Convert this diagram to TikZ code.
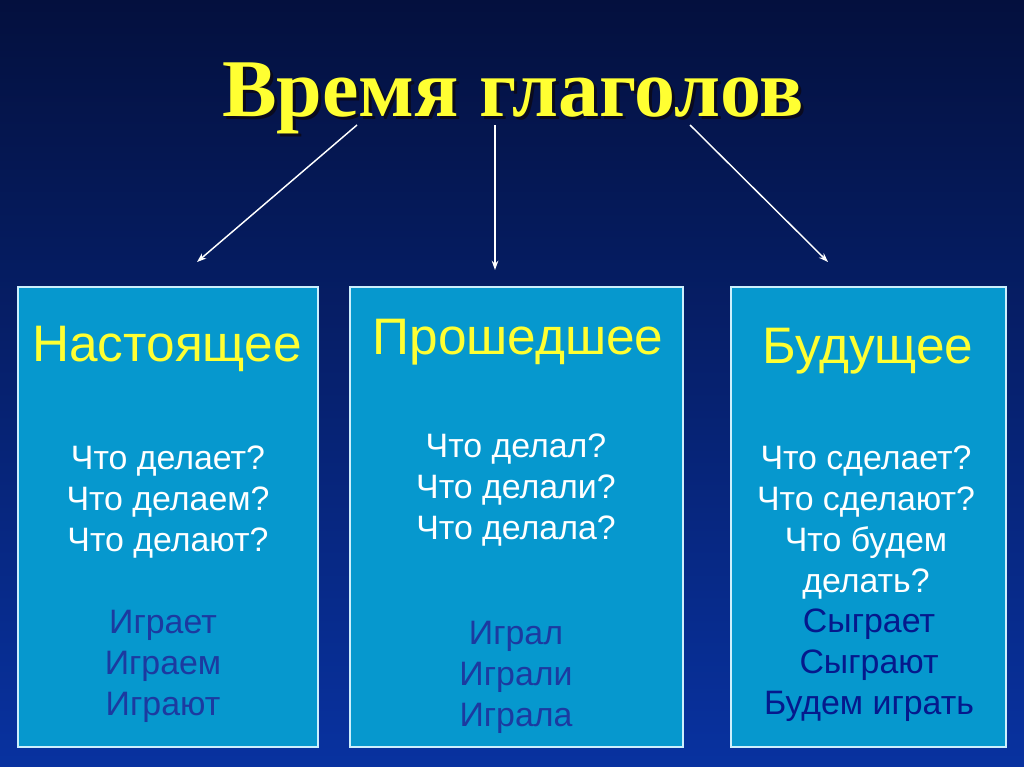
\documentclass[tikz,border=0pt]{standalone}
\usepackage{fontspec}
\setmainfont{Liberation Serif}
\setsansfont{Liberation Sans}
\usetikzlibrary{arrows.meta, positioning}
\definecolor{bgtop}{RGB}{4,16,62}
\definecolor{bgbot}{RGB}{8,50,160}
\definecolor{boxfill}{RGB}{6,152,206}
\definecolor{headyellow}{RGB}{255,255,50}
\definecolor{titleshadow}{RGB}{10,10,30}
\definecolor{verbblue}{RGB}{28,58,160}
\definecolor{verbnavy}{RGB}{5,25,140}
\newcommand{\shadowed}[1]{\rlap{\kern2.25pt\raisebox{-2.25pt}{\color{titleshadow}#1}}#1}

\begin{document}
\begin{tikzpicture}[x=0.75pt, y=-0.75pt,
    tensebox/.style={draw=white!80!cyan, line width=0.9pt, fill=boxfill, minimum height=345pt, inner sep=0pt},
    heading/.style={font=\sffamily\fontsize{38.5}{42}\selectfont, text=headyellow},
    question/.style={font=\sffamily\fontsize{25.4}{30.75}\selectfont, text=white, align=center},
    example/.style={font=\sffamily\fontsize{25.4}{30.75}\selectfont, text=verbblue, align=center},
    arrow/.style={-{Stealth[length=7pt, width=5pt]}, line width=1.1pt, white}
]
% background
\fill[top color=bgtop, bottom color=bgbot] (0,0) rectangle (1024,767);
\useasboundingbox (0,0) rectangle (1024,767);

% title
\node[font=\bfseries\fontsize{61.5}{70}\selectfont, text=headyellow] (title) at (513,100) {\shadowed{Время глаголов}};

% boxes
\node[tensebox, minimum width=225pt] (present) at (168,517) {};
\node[tensebox, minimum width=249.75pt] (past) at (516.5,517) {};
\node[tensebox, minimum width=206.25pt] (future) at (868.5,517) {};

\node[heading] (presenthead) at (167,349) {Настоящее};
\node[heading] (pasthead) at (518,342) {Прошедшее};
\node[heading] (futurehead) at (868,351) {Будущее};

\node[question] (presentq) at (168,502) {Что делает?\\Что делаем?\\Что делают?};
\node[example] (presentex) at (163,666) {Играет\\Играем\\Играют};

\node[question] (pastq) at (516,490) {Что делал?\\Что делали?\\Что делала?};
\node[example] (pastex) at (516,677) {Играл\\Играли\\Играла};

\node[question] (futureq) at (866,523) {Что сделает?\\Что сделают?\\Что будем\\делать?};
\node[example, text=verbnavy] (futureex) at (869,665) {Сыграет\\Сыграют\\Будем играть};

% arrows
\coordinate (fromleft) at (357,125);
\coordinate (frommid) at (495,125);
\coordinate (fromright) at (690,125);
\coordinate (toleft) at (197,262);
\coordinate (tomid) at (495,270);
\coordinate (toright) at (828,262);
\draw[arrow] (fromleft) -- (toleft);
\draw[arrow] (frommid) -- (tomid);
\draw[arrow] (fromright) -- (toright);
\end{tikzpicture}
\end{document}
